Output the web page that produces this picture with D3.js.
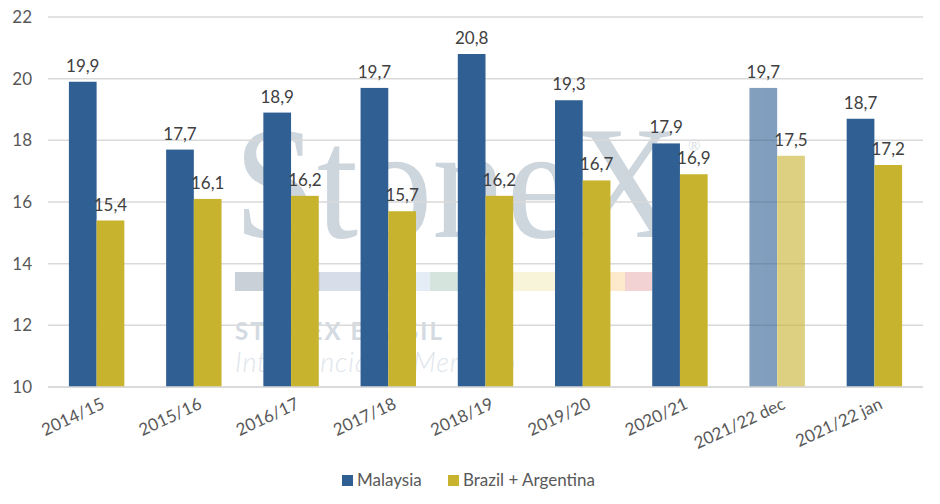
<!DOCTYPE html>
<html>
<head>
<meta charset="utf-8">
<script src="https://cdn.jsdelivr.net/npm/d3@7"></script>
<style>
  body { margin: 0; background: #fff; }
</style>
</head>
<body>
<div id="chart"></div>
<script>
// chart data
const categories = ['2014/15', '2015/16', '2016/17', '2017/18', '2018/19', '2019/20', '2020/21', '2021/22 dec', '2021/22 jan']
const malaysia = [19.9, 17.7, 18.9, 19.7, 20.8, 19.3, 17.9, 19.7, 18.7]
const brazilArgentina = [15.4, 16.1, 16.2, 15.7, 16.2, 16.7, 16.9, 17.5, 17.2]
const yTicks = [10, 12, 14, 16, 18, 20, 22]
const seriesNames = ['Malaysia', 'Brazil + Argentina']
const fadedCategory = '2021/22 dec'

const W = 940, H = 504
const margin = { top: 17, right: 17, bottom: 117, left: 48 }
const width = W - margin.left - margin.right
const height = H - margin.top - margin.bottom

const colors = ['#305f93', '#c8b32e']
const sans = "Lato, 'Noto Sans', sans-serif"
const fmt = (v) => d3.format('.1f')(v).replace('.', ',')

const svg = d3.select('#chart').append('svg').attr('width', W).attr('height', H)
  .style('font-family', sans)

// watermark goes first, everything else is drawn over it
const wm = svg.append('g')
wm.append('text')
  .attr('x', 234).attr('y', 237)
  .style('font-family', "'Liberation Serif', 'DejaVu Serif', serif")
  .attr('font-size', '162px')
  .attr('fill', '#cdd5dd')
  .attr('textLength', 446)
  .attr('lengthAdjust', 'spacingAndGlyphs')
  .text('StoneX')
wm.append('text')
  .attr('x', 688).attr('y', 151)
  .attr('font-size', '15px').attr('fill', '#dbe1e7')
  .text('®')
const band = [['#c9d0d8', 85], ['#d7dee9', 85], ['#e4edf6', 25], ['#d5e4dc', 45], ['#f8f4da', 130], ['#fde9cc', 20], ['#f2d2d3', 27]]
let bx = 235
band.forEach(([c, w]) => {
  wm.append('rect').attr('x', bx).attr('y', 272).attr('width', w).attr('height', 19).attr('fill', c)
  bx += w
})
wm.append('text')
  .attr('x', 235).attr('y', 340)
  .attr('font-size', '24px').attr('font-weight', 'bold')
  .attr('fill', '#d3dae1')
  .attr('textLength', 207)
  .text('STONEX BRASIL')
wm.append('text')
  .attr('x', 235).attr('y', 372)
  .attr('font-size', '27px').attr('font-style', 'italic').attr('font-weight', 300)
  .attr('fill', '#e0e5eb')
  .attr('textLength', 280)
  .text('Inteligência de Mercado')

const g = svg.append('g').attr('transform', `translate(${margin.left}, ${margin.top})`)

const x0 = d3.scaleBand().domain(categories).range([0, width]).paddingInner(0.43).paddingOuter(0.215)
const x1 = d3.scaleBand().domain(seriesNames).range([0, x0.bandwidth()])
const y = d3.scaleLinear().domain([10, 22]).range([height, 0])

// gridlines
g.append('g')
  .selectAll('line')
  .data(yTicks)
  .join('line')
  .attr('x1', 0)
  .attr('x2', width)
  .attr('y1', (d) => y(d))
  .attr('y2', (d) => y(d))
  .attr('stroke', '#d9d9d9')
  .attr('stroke-width', 1.5)

// y axis labels
const yAxis = g.append('g')
  .call(d3.axisLeft(y).tickValues(yTicks).tickSize(0).tickPadding(16))
yAxis.select('.domain').remove()
yAxis.selectAll('text').attr('font-size', '17px').attr('fill', '#595959').style('font-family', sans)

// bars
const rows = categories.map((c, i) => ({ cat: c, vals: [malaysia[i], brazilArgentina[i]] }))
const grp = g.append('g')
  .selectAll('g')
  .data(rows)
  .join('g')
  .attr('transform', (d) => `translate(${x0(d.cat)}, 0)`)
  .attr('opacity', (d) => (d.cat === fadedCategory ? 0.6 : 1))

grp.selectAll('rect')
  .data((d) => d.vals.map((v, k) => ({ v, k })))
  .join('rect')
  .attr('x', (d) => x1(seriesNames[d.k]))
  .attr('y', (d) => y(d.v))
  .attr('width', x1.bandwidth())
  .attr('height', (d) => height - y(d.v))
  .attr('fill', (d) => colors[d.k])

// data labels
g.append('g')
  .selectAll('g')
  .data(rows)
  .join('g')
  .attr('transform', (d) => `translate(${x0(d.cat)}, 0)`)
  .selectAll('text')
  .data((d) => d.vals.map((v, k) => ({ v, k })))
  .join('text')
  .attr('x', (d) => x1(seriesNames[d.k]) + x1.bandwidth() / 2)
  .attr('y', (d) => y(d.v) - 10)
  .attr('text-anchor', 'middle')
  .attr('font-size', '17px')
  .attr('fill', '#404040')
  .text((d) => fmt(d.v))

// x axis
g.append('line')
  .attr('x1', 0).attr('x2', width)
  .attr('y1', height).attr('y2', height)
  .attr('stroke', '#d9d9d9').attr('stroke-width', 1.5)

g.append('g')
  .selectAll('text')
  .data(categories)
  .join('text')
  .attr('transform', (d) => `translate(${x0(d) + x0.bandwidth() / 2 + 4}, ${height + 10}) rotate(-25)`)
  .attr('text-anchor', 'end')
  .attr('dy', '0.71em')
  .attr('font-size', '17px')
  .attr('fill', '#595959')
  .text((d) => d)

// legend
const legend = svg.append('g').attr('transform', 'translate(342, 475)')
const items = legend.selectAll('g')
  .data(seriesNames)
  .join('g')
  .attr('transform', (d, i) => `translate(${i * 106}, 0)`)
items.append('rect').attr('width', 11).attr('height', 11).attr('fill', (d, i) => colors[i])
items.append('text')
  .attr('x', 15).attr('y', 11)
  .attr('font-size', '17px')
  .attr('fill', '#595959')
  .text((d) => d)
</script>
</body>
</html>
